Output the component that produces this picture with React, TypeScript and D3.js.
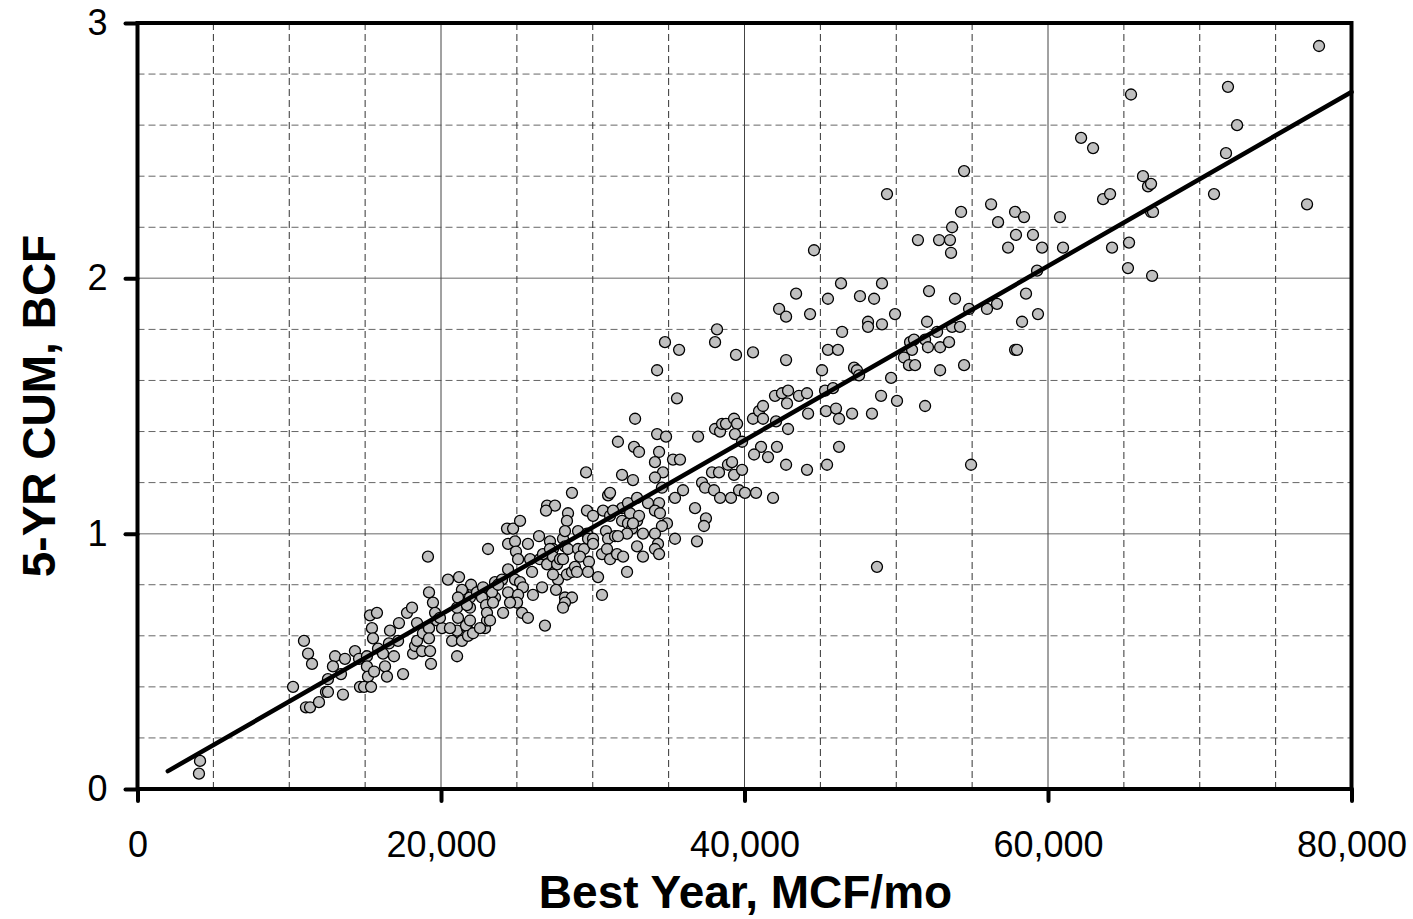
import React, { useEffect, useRef } from 'react';
import * as d3 from 'd3';

// Best Year (MCF/mo) vs 5-YR CUM (BCF), one pair per well
const wellPoints: [number, number][] = [
  [4120, 0.11], [4050, 0.06], [10250, 0.40],
  [10970, 0.58], [11240, 0.53], [11500, 0.49], [11100, 0.32], [11370, 0.32], [11960, 0.34],
  [12420, 0.38], [12550, 0.38], [13540, 0.37], [12550, 0.43], [13020, 0.52], [12880, 0.48],
  [13410, 0.45], [13670, 0.51], [14330, 0.54], [14600, 0.51], [15120, 0.52], [15320, 0.68],
  [15780, 0.69], [15450, 0.63], [15520, 0.59], [15120, 0.48], [15190, 0.44], [14660, 0.40],
  [14930, 0.40], [15390, 0.40], [15590, 0.46], [15850, 0.55],
  [16310, 0.48], [16440, 0.44], [16640, 0.62], [16570, 0.57], [16900, 0.52], [17170, 0.58],
  [17230, 0.65], [17500, 0.45], [17760, 0.69], [18090, 0.71], [18420, 0.65], [18160, 0.53],
  [18290, 0.56], [18420, 0.58], [18750, 0.54], [18810, 0.61], [19210, 0.63], [19210, 0.59],
  [19340, 0.49], [19470, 0.73], [19210, 0.77], [19610, 0.69], [19740, 0.66], [19140, 0.91],
  [16180, 0.53], [19280, 0.54],
  [20070, 0.63], [20460, 0.82], [21190, 0.83], [21060, 0.52], [20730, 0.58], [21060, 0.62],
  [21120, 0.67], [21380, 0.58], [21450, 0.77], [21710, 0.63], [21980, 0.80], [21380, 0.78],
  [21060, 0.71], [21910, 0.71], [21650, 0.64], [21780, 0.60], [22900, 0.63], [23030, 0.66],
  [23560, 0.81], [23560, 0.75], [23360, 0.77], [23100, 0.94], [21120, 0.75], [21910, 0.75],
  [22370, 0.77], [21710, 0.72], [21910, 0.66], [20590, 0.63], [22110, 0.61], [19930, 0.67],
  [24020, 0.82], [23760, 0.80], [22770, 0.79], [22700, 0.75], [22970, 0.72], [23430, 0.73],
  [23030, 0.69], [23230, 0.66], [24090, 0.69], [22570, 0.63],
  [24350, 1.02], [24750, 1.02], [25210, 1.05], [26460, 0.99], [27180, 0.97], [27380, 0.94],
  [28040, 0.98], [28170, 0.95], [28370, 0.94], [29030, 0.94], [29420, 0.94], [29160, 0.91],
  [29750, 0.89], [24420, 0.96], [24880, 0.97], [24940, 0.93], [25080, 0.90], [25730, 0.96],
  [25870, 0.90], [26000, 0.85], [26520, 0.90], [26720, 0.92], [27180, 0.94], [26990, 0.88],
  [27380, 0.91], [27650, 0.88], [27840, 0.90], [28040, 0.90], [27710, 0.82], [27380, 0.84],
  [28300, 0.84], [28630, 0.85], [28830, 0.87], [28960, 0.85], [29690, 0.85], [30350, 0.83],
  [27580, 0.78], [28170, 0.75], [28630, 0.75], [28170, 0.73], [28040, 0.71], [26850, 0.64],
  [26660, 0.79], [26060, 0.76], [25340, 0.69], [25730, 0.67], [24420, 0.86], [24880, 0.82],
  [25210, 0.81], [25400, 0.79], [24420, 0.77], [25080, 0.76], [25010, 0.73], [24550, 0.73],
  [26990, 1.11], [27510, 1.11], [26920, 1.09], [28370, 1.08], [29620, 1.09], [30020, 1.07],
  [28300, 1.05], [28170, 1.01], [29030, 1.01], [29620, 1.00], [29690, 0.98], [30020, 0.98],
  [30020, 0.96], [28630, 1.16], [29560, 1.24],
  [31010, 1.15], [31140, 1.16], [31930, 1.23], [32650, 1.21], [30680, 1.09], [31140, 1.07],
  [31930, 1.10], [32320, 1.12], [32920, 1.14], [31930, 1.05], [32320, 1.04], [32590, 1.02],
  [32260, 1.00], [32920, 1.05], [32920, 0.95], [30870, 1.01], [31010, 0.98], [31470, 0.99],
  [31660, 0.99], [30610, 0.92], [30940, 0.94], [31140, 0.90], [31600, 0.92], [32000, 0.91],
  [32260, 0.85], [30610, 0.76], [34760, 1.75], [35690, 1.72], [34240, 1.64], [35550, 1.53],
  [32790, 1.45], [31660, 1.36], [32720, 1.34], [33050, 1.32], [34240, 1.39], [34830, 1.38],
  [34370, 1.32], [34100, 1.28], [35290, 1.29], [35750, 1.29], [36940, 1.38], [34630, 1.24],
  [34100, 1.22], [34560, 1.18], [35950, 1.17], [35420, 1.14], [34370, 1.12], [33640, 1.12],
  [31340, 1.09], [34100, 1.09], [34430, 1.08], [32460, 1.08], [33050, 1.07], [32650, 1.04],
  [34890, 1.04], [34560, 1.03], [34100, 1.00], [33310, 1.00], [35420, 0.98], [36740, 1.10],
  [37460, 1.06], [37330, 1.03], [36870, 0.97], [34300, 0.96], [34100, 0.94], [34370, 0.92],
  [33310, 0.91],
  [38060, 1.75], [38190, 1.80], [39440, 1.70], [40560, 1.71], [42740, 1.68], [38060, 1.41],
  [38390, 1.40], [38520, 1.43], [38780, 1.43], [39310, 1.45], [39510, 1.43], [39370, 1.39],
  [39840, 1.36], [40560, 1.45], [40960, 1.48], [41220, 1.50], [41220, 1.45], [42010, 1.54],
  [42470, 1.55], [42870, 1.56], [42800, 1.51], [43590, 1.54], [42080, 1.44], [42870, 1.41],
  [41090, 1.34], [40630, 1.31], [41550, 1.30], [42140, 1.34], [42740, 1.27], [37860, 1.24],
  [38320, 1.24], [38910, 1.27], [39180, 1.28], [39310, 1.23], [39840, 1.25], [37200, 1.20],
  [37400, 1.18], [37990, 1.17], [38390, 1.14], [39110, 1.14], [39640, 1.17], [40030, 1.16],
  [40760, 1.16], [41880, 1.14], [42280, 1.88], [42740, 1.85], [43400, 1.94],
  [44580, 2.11], [46360, 1.98], [49060, 1.98], [45500, 1.92], [47610, 1.93], [48540, 1.92],
  [44320, 1.86], [49920, 1.86], [48140, 1.83], [48140, 1.81], [49060, 1.82], [46430, 1.79],
  [45500, 1.72], [46160, 1.72], [45110, 1.64], [47220, 1.65], [47410, 1.64], [47550, 1.62],
  [49660, 1.61], [44120, 1.55], [45310, 1.56], [45830, 1.57], [44190, 1.47], [45370, 1.48],
  [46030, 1.49], [46230, 1.45], [47090, 1.47], [48400, 1.47], [49000, 1.54], [50050, 1.52],
  [46230, 1.34], [44120, 1.25], [45440, 1.27], [48730, 0.87], [49390, 2.33],
  [51430, 2.15], [52820, 2.15], [53540, 2.15], [53610, 2.10], [53680, 2.20], [54270, 2.26],
  [54470, 2.42], [52160, 1.95], [53870, 1.92], [52030, 1.83], [52690, 1.79], [53680, 1.81],
  [54200, 1.81], [54800, 1.88], [55980, 1.88], [56640, 1.90], [50910, 1.75], [51170, 1.76],
  [51040, 1.72], [51900, 1.76], [52090, 1.73], [52890, 1.73], [53480, 1.75], [50510, 1.69],
  [50840, 1.66], [51240, 1.66], [52890, 1.64], [54470, 1.66], [51900, 1.50], [54930, 1.27],
  [56250, 2.29], [56710, 2.22],
  [57830, 2.26], [58420, 2.24], [60790, 2.24], [57890, 2.17], [59010, 2.17], [57370, 2.12],
  [59610, 2.12], [60990, 2.12], [59280, 2.03], [58550, 1.94], [59340, 1.86], [58290, 1.83],
  [57830, 1.72], [57960, 1.72], [62180, 2.55], [62970, 2.51],
  [63630, 2.31], [64090, 2.33], [66260, 2.40], [66590, 2.36], [66790, 2.37], [66790, 2.26],
  [66920, 2.26], [64220, 2.12], [65340, 2.14], [65270, 2.04], [66860, 2.01], [65470, 2.72],
  [70940, 2.33], [71730, 2.49], [71860, 2.75], [72460, 2.60], [77070, 2.29], [77860, 2.91],
];

// trend line end points
const fitX = [2000, 80000];
const fitY = [0.07, 2.73];

const xTicks = [0, 20000, 40000, 60000, 80000];
const yTicks = [0, 1, 2, 3];
const xTitle = 'Best Year, MCF/mo';
const yTitle = '5-YR CUM, BCF';

const ScatterChart: React.FC = () => {
  const ref = useRef<HTMLDivElement | null>(null);

  useEffect(() => {
    if (!ref.current) return;
    const W = 1413;
    const H = 919;
    const left = 137.5, right = 1351.5, top = 23, bottom = 789;

    d3.select(ref.current).selectAll('*').remove();

    const svg = d3.select(ref.current)
      .append('svg')
      .attr('width', W)
      .attr('height', H)
      .style('position', 'absolute')
      .style('left', '0px')
      .style('top', '0px')
      .style('font-family', 'Liberation Sans, Arial, sans-serif');

    const x = d3.scaleLinear().domain([0, 80000]).range([left, right]);
    const y = d3.scaleLinear().domain([0, 3]).range([bottom, top]);

    // grid
    const grid = svg.append('g');
    const xGrid = d3.range(5000, 80000, 5000);
    const yGrid = d3.range(0.2, 3, 0.2).map(v => Math.round(v * 10) / 10);

    grid.selectAll('line.yg')
      .data(yGrid)
      .enter()
      .append('line')
      .attr('x1', left).attr('x2', right)
      .attr('y1', d => y(d)).attr('y2', d => y(d))
      .attr('stroke', d => (d % 1 === 0 ? '#9a9a9a' : '#666'))
      .attr('stroke-width', d => (d % 1 === 0 ? 1.5 : 1))
      .attr('stroke-dasharray', d => (d % 1 === 0 ? null : '7,4'));

    grid.selectAll('line.xg')
      .data(xGrid)
      .enter()
      .append('line')
      .attr('y1', top).attr('y2', bottom)
      .attr('x1', d => x(d)).attr('x2', d => x(d))
      .attr('stroke', d => (d % 20000 === 0 ? '#444' : '#333'))
      .attr('stroke-width', 1)
      .attr('stroke-dasharray', d => (d % 20000 === 0 ? null : '7,4'));

    // points
    svg.append('g')
      .selectAll('circle')
      .data(wellPoints)
      .enter()
      .append('circle')
      .attr('cx', d => x(d[0]))
      .attr('cy', d => y(d[1]))
      .attr('r', 5.5)
      .attr('fill', '#c0c0c0')
      .attr('stroke', '#000')
      .attr('stroke-width', 1.3);

    // trend line
    const line = d3.line<number>()
      .x(d => x(fitX[d]))
      .y(d => y(fitY[d]));
    svg.append('path')
      .attr('d', line([0, 1]))
      .attr('fill', 'none')
      .attr('stroke', '#000')
      .attr('stroke-width', 4.5)
      .attr('stroke-linecap', 'round');

    // frame
    svg.append('rect')
      .attr('x', left).attr('y', top)
      .attr('width', right - left).attr('height', bottom - top)
      .attr('fill', 'none')
      .attr('stroke', '#000')
      .attr('stroke-width', 4);

    // axes
    const xAxis = svg.append('g')
      .attr('transform', `translate(0,${bottom})`)
      .call(d3.axisBottom(x).tickValues(xTicks).tickSize(12).tickPadding(30).tickFormat(d3.format(',')));
    xAxis.select('.domain').remove();
    xAxis.selectAll('line').attr('stroke-width', 4).attr('stroke-linecap', 'round');
    xAxis.selectAll('text')
      .attr('font-size', 36)
      .attr('font-family', 'Liberation Sans, Arial, sans-serif')
      .attr('fill', '#000');

    const yAxis = svg.append('g')
      .attr('transform', `translate(${left},0)`)
      .call(d3.axisLeft(y).tickValues(yTicks).tickSize(12).tickPadding(18).tickFormat(d3.format('d')));
    yAxis.select('.domain').remove();
    yAxis.selectAll('line').attr('stroke-width', 4).attr('stroke-linecap', 'round');
    yAxis.selectAll('text')
      .attr('font-size', 36)
      .attr('font-family', 'Liberation Sans, Arial, sans-serif')
      .attr('fill', '#000');

    // titles
    svg.append('text')
      .attr('x', (left + right) / 2 + 1)
      .attr('y', 908)
      .attr('text-anchor', 'middle')
      .attr('font-size', 46)
      .attr('font-weight', 'bold')
      .text(xTitle);

    svg.append('text')
      .attr('transform', `translate(55,${(top + bottom) / 2}) rotate(-90)`)
      .attr('text-anchor', 'middle')
      .attr('font-size', 46)
      .attr('font-weight', 'bold')
      .text(yTitle);
  }, []);

  return <div ref={ref} />;
};

export default function App() {
  return <ScatterChart />;
}
